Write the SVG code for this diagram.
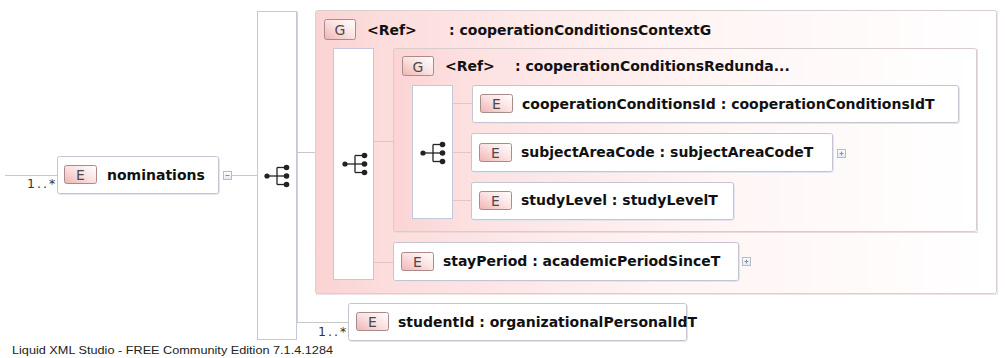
<svg xmlns="http://www.w3.org/2000/svg" width="1005" height="358" viewBox="0 0 1005 358">
<defs>
<linearGradient id="pinkOuter" x1="0" y1="0" x2="1" y2="0">
<stop offset="0" stop-color="#fbd3d3"/>
<stop offset="0.12" stop-color="#fcdede"/>
<stop offset="0.5" stop-color="#fff3f3"/>
<stop offset="1" stop-color="#ffffff"/>
</linearGradient>
<linearGradient id="pinkInner" x1="0" y1="0" x2="1" y2="0">
<stop offset="0" stop-color="#fbd4d4"/>
<stop offset="0.15" stop-color="#fde2e2"/>
<stop offset="0.55" stop-color="#fff5f5"/>
<stop offset="1" stop-color="#ffffff"/>
</linearGradient>
<linearGradient id="badge" x1="0" y1="1" x2="1" y2="0">
<stop offset="0" stop-color="#f0b4b4"/>
<stop offset="0.5" stop-color="#fbe0e0"/>
<stop offset="1" stop-color="#ffffff"/>
</linearGradient>
<linearGradient id="btn" x1="0" y1="0" x2="0" y2="1">
<stop offset="0" stop-color="#ffffff"/>
<stop offset="1" stop-color="#e4e8f0"/>
</linearGradient>
<g id="seqIcon">
<line x1="0" y1="0" x2="10" y2="0" stroke="#222" stroke-width="1.3"/>
<line x1="10" y1="-8.5" x2="10" y2="8.5" stroke="#222" stroke-width="1.3"/>
<line x1="10" y1="-8.5" x2="19" y2="-8.5" stroke="#222" stroke-width="1.3"/>
<line x1="10" y1="8.5" x2="19" y2="8.5" stroke="#222" stroke-width="1.3"/>
<line x1="10" y1="0" x2="19" y2="0" stroke="#222" stroke-width="1.3"/>
<circle cx="0" cy="0" r="2.6" fill="#222"/>
<circle cx="19.5" cy="-8.5" r="2.8" fill="#222"/>
<circle cx="19.5" cy="0" r="2.8" fill="#222"/>
<circle cx="19.5" cy="8.5" r="2.8" fill="#222"/>
</g>
<g id="plus">
<rect x="0" y="0" width="8" height="8" fill="url(#btn)" stroke="#b4bccc"/>
<line x1="2" y1="4" x2="6" y2="4" stroke="#8890a0"/>
<line x1="4" y1="2" x2="4" y2="6" stroke="#8890a0"/>
</g>
</defs>
<style>
.box{fill:#fff;stroke:#c4c4d2;stroke-width:1}
.shadow{fill:none;stroke:#e4e4ee;stroke-width:1}
.badge{fill:url(#badge);stroke:#a88c8c;stroke-width:1}
.bl{font-family:'DejaVu Sans',sans-serif;font-size:14px;fill:#4a4a4a;text-anchor:middle}
.lbl{font-family:'DejaVu Sans',sans-serif;font-weight:bold;font-size:14px;fill:#111}
.seq{fill:#fff;stroke:#c3c8dc;stroke-width:1}
.conn{stroke:#c8c8c8;stroke-width:1;fill:none}
.connp{stroke:#e6c4c4;stroke-width:1;fill:none}
.occ{font-family:'DejaVu Sans',sans-serif;font-size:12.5px;letter-spacing:2px;fill:#333}
.foot{font-family:'Liberation Sans',sans-serif;font-size:11px;fill:#222}
</style>
<rect width="1005" height="358" fill="#fff"/>

<g id="connectors">
<line class="conn" x1="5" y1="175.5" x2="57" y2="175.5"/>
<line class="conn" x1="232" y1="175.5" x2="257" y2="175.5"/>
<line x1="297.5" y1="12" x2="297.5" y2="322.5" stroke="#bfe0bf"/>
<line class="conn" x1="297" y1="152.5" x2="315" y2="152.5"/>
<line class="conn" x1="297" y1="322.5" x2="348" y2="322.5"/>
<text class="occ" x="27" y="188">1..*</text>
<text class="occ" x="318" y="336">1..*</text>
</g>

<g id="nominations">
<rect class="shadow" x="58.5" y="157.5" width="161" height="37" rx="2"/>
<rect class="box" x="57.5" y="156.5" width="161" height="37" rx="2"/>
<rect class="badge" x="64.5" y="165.5" width="32" height="18" rx="2"/>
<text class="bl" x="80.5" y="180">E</text>
<text class="lbl" x="107" y="180">nominations</text>
<rect x="223.5" y="171.5" width="8" height="8" fill="url(#btn)" stroke="#b4bccc"/>
<line x1="225.5" y1="175.5" x2="229.5" y2="175.5" stroke="#8890a0"/>
</g>

<g id="sequence1">
<rect class="seq" x="257.5" y="11.5" width="39" height="328"/>
<use href="#seqIcon" transform="translate(267,176)"/>
</g>

<g id="cooperationConditionsContextG">
<rect x="316.5" y="11.5" width="681" height="283" fill="none" stroke="#f0e4e4"/>
<rect x="315.5" y="10.5" width="681" height="283" rx="2" fill="url(#pinkOuter)" stroke="#d9cfcf"/>
<rect class="badge" x="324.5" y="19.5" width="31" height="20" rx="2"/>
<text class="bl" x="340" y="35">G</text>
<text class="lbl" y="35"><tspan x="367">&lt;Ref&gt;</tspan><tspan x="449">: cooperationConditionsContextG</tspan></text>
</g>

<g id="sequence2">
<rect class="seq" x="333.5" y="48.5" width="40" height="231"/>
<use href="#seqIcon" transform="translate(345,164)"/>
</g>

<g id="cooperationConditionsRedundantG">
<rect x="394.5" y="49.5" width="583" height="183" fill="none" stroke="#ecdada"/>
<rect x="393.5" y="48.5" width="583" height="183" rx="2" fill="url(#pinkInner)" stroke="#d8cccc"/>
<rect class="badge" x="402.5" y="56.5" width="31" height="19" rx="2"/>
<text class="bl" x="418" y="71.5">G</text>
<text class="lbl" y="71"><tspan x="445">&lt;Ref&gt;</tspan><tspan x="515">: cooperationConditionsRedunda...</tspan></text>
</g>

<g id="sequence3">
<rect class="seq" x="412.5" y="85.5" width="40" height="133"/>
<use href="#seqIcon" transform="translate(423,153)"/>
</g>

<g id="connectors-inner">
<line class="connp" x1="374" y1="141.5" x2="393" y2="141.5"/>
<line class="connp" x1="374" y1="262.5" x2="393" y2="262.5"/>
<line class="connp" x1="453" y1="103.5" x2="472" y2="103.5"/>
<line class="connp" x1="453" y1="152.5" x2="471" y2="152.5"/>
<line class="connp" x1="453" y1="200.5" x2="471" y2="200.5"/>
</g>

<g id="cooperationConditionsId">
<rect class="shadow" x="473.5" y="86.5" width="486" height="37" rx="2"/>
<rect class="box" x="472.5" y="85.5" width="486" height="37" rx="2"/>
<rect class="badge" x="480.5" y="94.5" width="32" height="18" rx="2"/>
<text class="bl" x="496.5" y="109">E</text>
<text class="lbl" x="522" y="109">cooperationConditionsId : cooperationConditionsIdT</text>
</g>

<g id="subjectAreaCode">
<rect class="shadow" x="472.5" y="134.5" width="361" height="38" rx="2"/>
<rect class="box" x="471.5" y="133.5" width="361" height="38" rx="2"/>
<rect class="badge" x="479.5" y="143.5" width="32" height="18" rx="2"/>
<text class="bl" x="495.5" y="158">E</text>
<text class="lbl" x="521" y="157">subjectAreaCode : subjectAreaCodeT</text>
<use href="#plus" transform="translate(837.5,149.5)"/>
</g>

<g id="studyLevel">
<rect class="shadow" x="472.5" y="183.5" width="262" height="37" rx="2"/>
<rect class="box" x="471.5" y="182.5" width="262" height="37" rx="2"/>
<rect class="badge" x="479.5" y="191.5" width="32" height="18" rx="2"/>
<text class="bl" x="495.5" y="206">E</text>
<text class="lbl" x="521" y="205">studyLevel : studyLevelT</text>
</g>

<g id="stayPeriod">
<rect class="shadow" x="394.5" y="243.5" width="345" height="38" rx="2"/>
<rect class="box" x="393.5" y="242.5" width="345" height="38" rx="2"/>
<rect class="badge" x="401.5" y="252.5" width="32" height="18" rx="2"/>
<text class="bl" x="417.5" y="267">E</text>
<text class="lbl" x="443" y="266">stayPeriod : academicPeriodSinceT</text>
<use href="#plus" transform="translate(742.5,257.5)"/>
</g>

<g id="studentId">
<rect class="shadow" x="349.5" y="304.5" width="338" height="37" rx="2"/>
<rect class="box" x="348.5" y="303.5" width="338" height="37" rx="2"/>
<rect class="badge" x="356.5" y="312.5" width="32" height="18" rx="2"/>
<text class="bl" x="372.5" y="327">E</text>
<text class="lbl" x="398" y="327">studentId : organizationalPersonalIdT</text>
</g>

<text class="foot" x="12" y="354" textLength="321" lengthAdjust="spacingAndGlyphs">Liquid XML Studio - FREE Community Edition 7.1.4.1284</text>
</svg>
